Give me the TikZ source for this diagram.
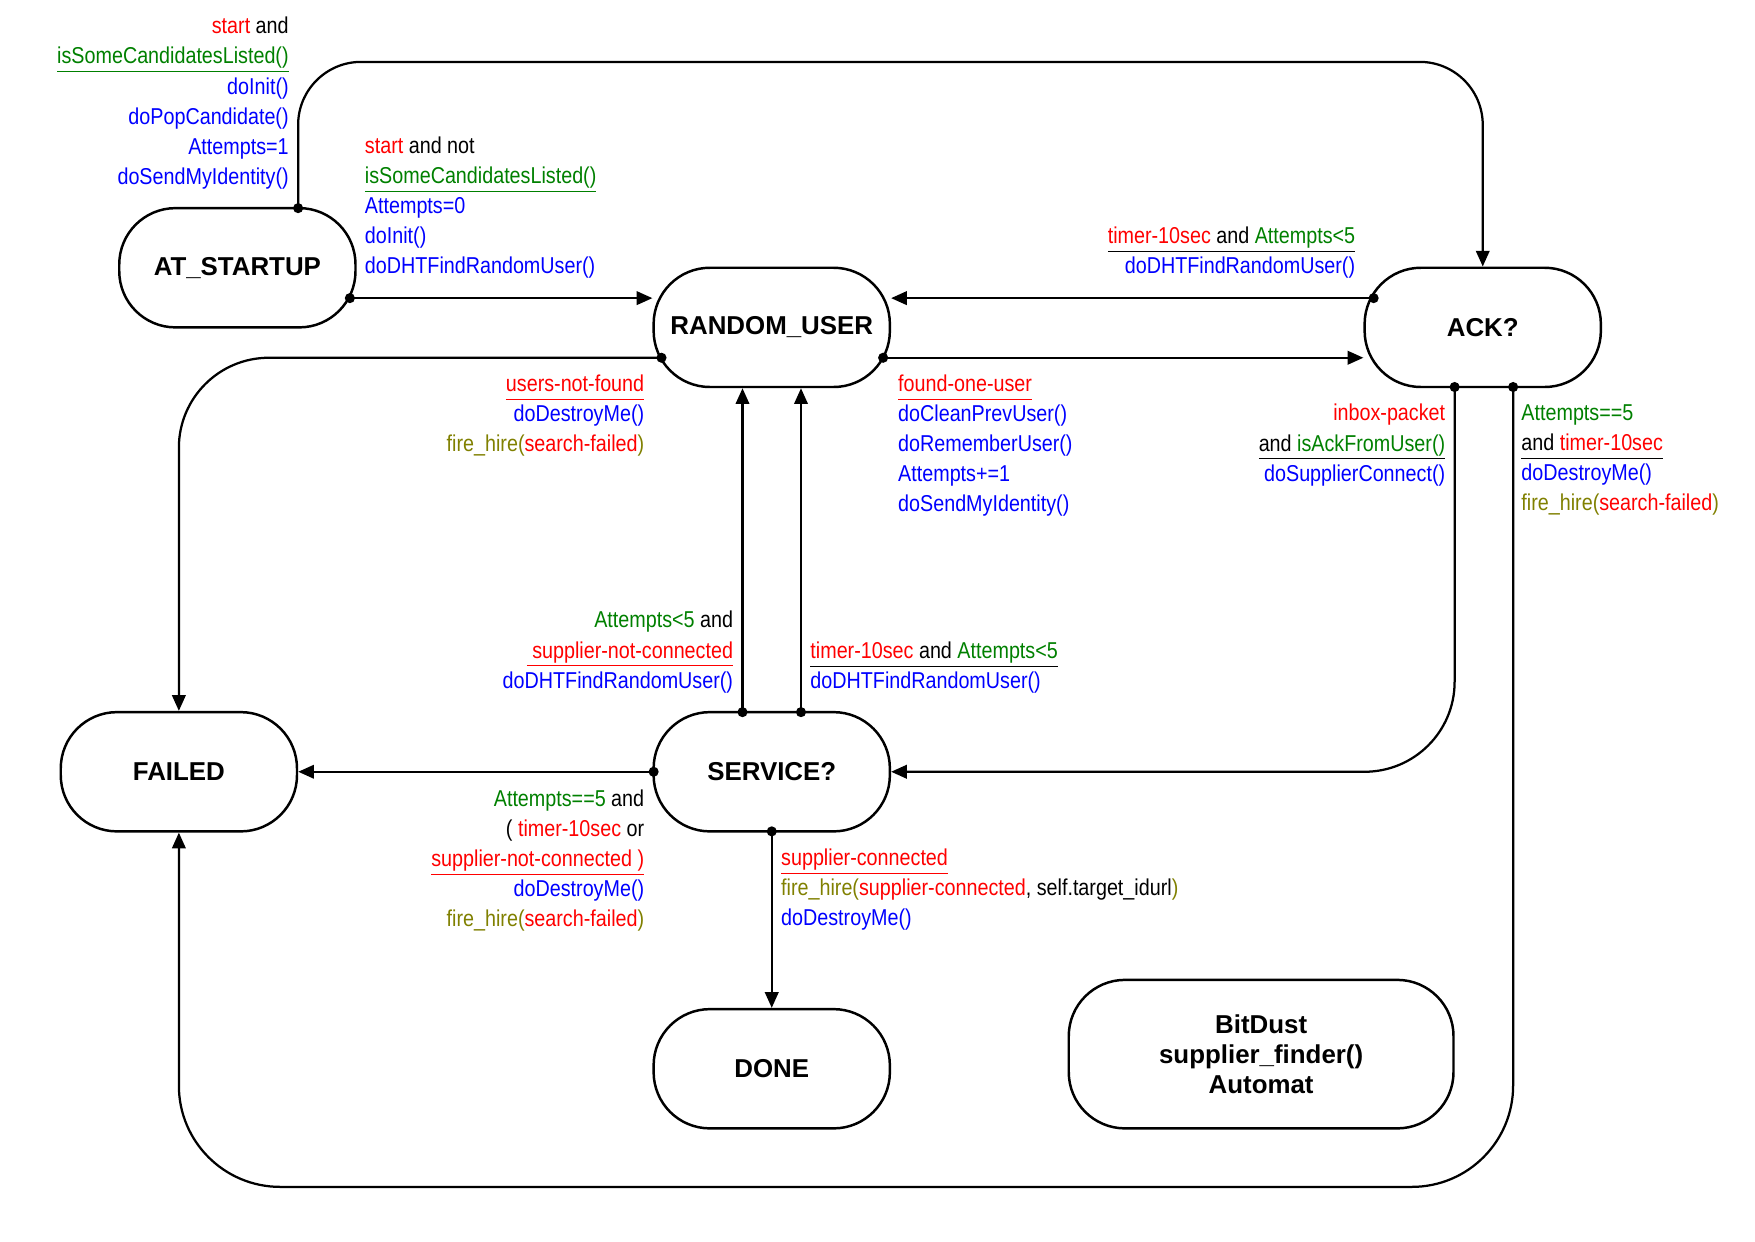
\documentclass[tikz,border=0pt]{standalone}
\usepackage{fontspec}
\setmainfont{Liberation Sans}
\newfontfamily\lab{Liberation Sans}[FakeStretch=0.86]
\usetikzlibrary{arrows.meta}
\definecolor{cr}{HTML}{FF0000}
\definecolor{cg}{HTML}{008000}
\definecolor{cb}{HTML}{0000FF}
\definecolor{co}{HTML}{808000}
\newcommand\ul[1]{\underline{#1\vphantom{()gp}}}
\newcommand\cR[1]{\textcolor{cr}{#1}}
\newcommand\cG[1]{\textcolor{cg}{#1}}
\newcommand\cB[1]{\textcolor{cb}{#1}}
\newcommand\cO[1]{\textcolor{co}{#1}}
\begin{document}
\begin{tikzpicture}[x=0.5pt,y=-0.5pt,
  st/.style={draw,line width=1.1pt,rounded corners=25pt,minimum width=105pt,minimum height=53pt,inner sep=0pt,font=\fontsize{11.5}{13.5}\selectfont\bfseries,align=center},
  e/.style={line width=1pt,-{Triangle[length=7pt,width=6pt]}},
  lb/.style={inner sep=0pt,font=\fontsize{10.2}{13.35}\selectfont\lab},
  lr/.style={lb,align=right},
  ll/.style={lb,align=left},
  dot/.style={circle,fill,inner sep=0pt,minimum size=4.5pt}]
\useasboundingbox (0,0) rectangle (1560,1104);
\node[st] (as) at (211,238) {AT\_STARTUP};
\node[st] (ru) at (686,291) {RANDOM\_USER};
\node[st] (ack) at (1318,291) {ACK?};
\node[st] (fa) at (159,686) {FAILED};
\node[st] (sv) at (686,686) {SERVICE?};
\node[st] (dn) at (686,950) {DONE};
\node[st,minimum width=171pt,minimum height=66pt] (bd) at (1121,937) {BitDust\\supplier\_finder()\\Automat};
% points
\coordinate (p1) at (265,185);
\coordinate (p2) at (311,265);
\coordinate (p3) at (1221,265);
\coordinate (p4) at (785,318);
\coordinate (p5) at (588,318);
\coordinate (p6) at (660,633);
\coordinate (p7) at (712,633);
\coordinate (p8) at (1293,344);
\coordinate (p9) at (581,686);
\coordinate (p10) at (686,739);
\coordinate (p11) at (1345,344);
\foreach \p in {p1,p2,p3,p4,p5,p6,p7,p8,p9,p10,p11} \node[dot] at (\p) {};
\draw[e,rounded corners=28pt] (p1) -- (265,55) -- (1318,55) -- (ack.north);
\draw[e] (p2) -- (ru.west|-p2);
\draw[e] (p3) -- (ru.east|-p3);
\draw[e] (p4) -- (ack.west|-p4);
\draw[e,rounded corners=40pt] (p5) -- (159,318) -- (fa.north);
\draw[e] (p6) -- (p6|-ru.south);
\draw[e] (p7) -- (p7|-ru.south);
\draw[e,rounded corners=40pt] (p8) -- (1293,686) -- (sv.east);
\draw[e] (p9) -- (fa.east);
\draw[e] (p10) -- (dn.north);
\draw[e,rounded corners=45pt] (p11) -- (1345,1055) -- (159,1055) -- (fa.south);
% labels
\node[lr,anchor=north east] (la) at (257,15) {\cR{start} and\\\cG{\ul{isSomeCandidatesListed()}}\\\cB{doInit()}\\\cB{doPopCandidate()}\\\cB{Attempts=1}\\\cB{doSendMyIdentity()}};
\node[ll,anchor=north west] (lbb) at (324,121) {\cR{start} and not\\\cG{\ul{isSomeCandidatesListed()}}\\\cB{Attempts=0}\\\cB{doInit()}\\\cB{doDHTFindRandomUser()}};
\node[lr,anchor=north east] (lc) at (1205,201) {\ul{\cR{timer-10sec} and \cG{Attempts<5}}\\\cB{doDHTFindRandomUser()}};
\node[lr,anchor=north east] (ld) at (573,333) {\cR{\ul{users-not-found}}\\\cB{doDestroyMe()}\\\cO{fire\_hire(}\cR{search-failed}\cO{)}};
\node[ll,anchor=north west] (le) at (798,333) {\cR{\ul{found-one-user}}\\\cB{doCleanPrevUser()}\\\cB{doRememberUser()}\\\cB{Attempts+=1}\\\cB{doSendMyIdentity()}};
\node[lr,anchor=north east] (lf) at (1285,359) {\cR{inbox-packet}\\\ul{and \cG{isAckFromUser()}}\\\cB{doSupplierConnect()}};
\node[ll,anchor=north west] (lg) at (1352,359) {\cG{Attempts==5}\\\ul{and \cR{timer-10sec}}\\\cB{doDestroyMe()}\\\cO{fire\_hire(}\cR{search-failed}\cO{)}};
\node[lr,anchor=north east] (lh) at (652,543) {\cG{Attempts<5} and\\\cR{\ul{ supplier-not-connected}}\\\cB{doDHTFindRandomUser()}};
\node[ll,anchor=north west] (li) at (720,570) {\ul{\cR{timer-10sec} and \cG{Attempts<5}}\\\cB{doDHTFindRandomUser()}};
\node[lr,anchor=north east] (lj) at (573,702) {\cG{Attempts==5} and\\( \cR{timer-10sec} or\\\cR{\ul{supplier-not-connected )}}\\\cB{doDestroyMe()}\\\cO{fire\_hire(}\cR{search-failed}\cO{)}};
\node[ll,anchor=north west] (lk) at (694,754) {\cR{\ul{supplier-connected}}\\\cO{fire\_hire(}\cR{supplier-connected}, self.target\_idurl\cO{)}\\\cB{doDestroyMe()}};
\end{tikzpicture}
\end{document}
